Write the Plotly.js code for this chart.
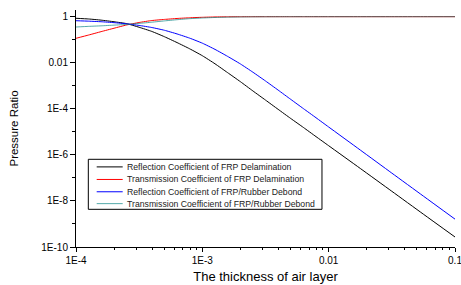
<!DOCTYPE html>
<html>
<head>
<meta charset="utf-8">
<script src="https://cdn.plot.ly/plotly-3.0.1.min.js"></script>
<style>html,body{margin:0;padding:0;background:#fff;}#chart{width:461px;height:285px;}</style>
</head>
<body>
<div id="chart"></div>
<script>
// Air-layer thickness (x)
const thickness = [1.0e-4, 1.26e-4, 1.58e-4, 2.0e-4, 2.51e-4, 3.16e-4, 3.98e-4, 5.01e-4, 6.31e-4, 7.94e-4,
                   1.0e-3, 1.26e-3, 1.58e-3, 2.0e-3, 2.51e-3, 3.16e-3, 3.98e-3, 5.01e-3, 6.31e-3, 7.94e-3,
                   0.01, 0.0178, 0.0316, 0.0562, 0.1];
// Reflection coefficient of FRP delamination
const reflFRP = [0.851, 0.794, 0.708, 0.603, 0.501, 0.347, 0.229, 0.135, 0.0750, 0.0403,
                 0.0202, 9.0e-3, 3.76e-3, 1.51e-3, 6.0e-4, 2.4e-4, 9.5e-5, 3.8e-5, 1.55e-5, 6.2e-6,
                 2.5e-6, 2.57e-7, 2.63e-8, 2.66e-9, 2.72e-10];
// Transmission coefficient of FRP delamination
const transFRP = [0.115, 0.16, 0.224, 0.315, 0.435, 0.56, 0.68, 0.76, 0.835, 0.896,
                  0.94, 0.972, 0.988, 0.995, 0.998, 1, 1, 1, 1, 1,
                  1, 1, 1, 1, 1];
// Reflection coefficient of FRP/Rubber debond
const reflRub = [0.668, 0.638, 0.603, 0.550, 0.490, 0.417, 0.339, 0.257, 0.178, 0.117,
                 0.0708, 0.0380, 0.0191, 8.9e-3, 3.9e-3, 1.62e-3, 6.5e-4, 2.57e-4, 1.02e-4, 4.1e-5,
                 1.62e-5, 1.62e-6, 1.62e-7, 1.62e-8, 1.62e-9];
// Transmission coefficient of FRP/Rubber debond
const transRub = [0.356, 0.38, 0.40, 0.43, 0.46, 0.51, 0.576, 0.656, 0.74, 0.82,
                  0.877, 0.923, 0.955, 0.975, 0.987, 0.993, 0.997, 0.999, 1, 1,
                  1, 1, 1, 1, 1];

const seriesNames = [
  'Reflection Coefficient of FRP Delamination',
  'Transmission Coefficient of FRP Delamination',
  'Reflection Coefficient of FRP/Rubber Debond',
  'Transmission Coefficient of FRP/Rubber Debond'
];
const seriesValues = [reflFRP, transFRP, reflRub, transRub];
const seriesColors = ['#000000', '#ff0000', '#0000ff', 'rgba(0,128,128,0.67)'];

const yTickVals = [1, 0.01, 1e-4, 1e-6, 1e-8, 1e-10];
const yTickText = ['1', '0.01', '1E-4', '1E-6', '1E-8', '1E-10'];
const yMinorVals = [0.1, 1e-3, 1e-5, 1e-7, 1e-9];
const xTickVals = [1e-4, 1e-3, 0.01, 0.1];
const xTickText = ['1E-4', '1E-3', '0.01', '0.1'];
const xMinorVals = [];
[1e-4, 1e-3, 1e-2].forEach(d => { for (let k = 2; k <= 9; k++) xMinorVals.push(k * d); });

const FONT = 'Liberation Sans, Arial, sans-serif';

const traces = seriesValues.map((v, i) => ({
  x: thickness, y: v, type: 'scatter', mode: 'lines', name: seriesNames[i],
  line: {color: seriesColors[i], width: 1, shape: 'spline', smoothing: 0.5},
  showlegend: false, hoverinfo: 'skip'
}));

// manual legend (compact, like the original)
const shapes = [{type: 'rect', xref: 'paper', yref: 'paper', x0: 0.0325, x1: 0.649, y0: 0.159, y1: 0.370,
                 line: {color: '#000', width: 1}, fillcolor: 'rgba(0,0,0,0)'}];
const annotations = [];
const rowY = [0.338, 0.285, 0.233, 0.183];
seriesNames.forEach((n, i) => {
  shapes.push({type: 'line', xref: 'paper', yref: 'paper', x0: 0.0546, x1: 0.1232, y0: rowY[i], y1: rowY[i],
               line: {color: seriesColors[i], width: 1}});
  annotations.push({xref: 'paper', yref: 'paper', x: 0.129, y: rowY[i], xanchor: 'left', yanchor: 'middle',
                    text: n, showarrow: false, font: {family: FONT, size: 8.7, color: '#222'}});
});

const layout = {
  width: 461, height: 285,
  margin: {l: 76, r: 6, t: 10, b: 38, pad: 0},
  paper_bgcolor: '#fff', plot_bgcolor: '#fff',
  font: {family: FONT, color: '#000'},
  xaxis: {
    type: 'log', range: [-4, -1], showgrid: false, zeroline: false,
    showline: true, linecolor: '#000', linewidth: 1,
    ticks: 'outside', ticklen: 4, tickcolor: '#000', tickwidth: 1,
    tickmode: 'array', tickvals: xTickVals, ticktext: xTickText, ticklabeloverflow: 'allow',
    tickfont: {family: FONT, size: 10, color: '#000'},
    minor: {tickmode: 'array', tickvals: xMinorVals, ticks: 'outside', ticklen: 2, tickcolor: '#000', showgrid: false},
    title: {text: 'The thickness of air layer', font: {family: FONT, size: 13, color: '#000'}, standoff: 6}
  },
  yaxis: {
    type: 'log', range: [-10, 0.29], showgrid: false, zeroline: false,
    showline: true, linecolor: '#000', linewidth: 1,
    ticks: 'outside', ticklen: 5, tickcolor: '#000', tickwidth: 1,
    tickmode: 'array', tickvals: yTickVals, ticktext: yTickText, ticklabeloverflow: 'allow',
    tickfont: {family: FONT, size: 10, color: '#000'},
    minor: {tickmode: 'array', tickvals: yMinorVals, ticks: 'outside', ticklen: 3, tickcolor: '#000', showgrid: false},
    title: {text: 'Pressure Ratio', font: {family: FONT, size: 11.5, color: '#000'}, standoff: 20}
  },
  shapes: shapes,
  annotations: annotations,
  showlegend: false
};

Plotly.newPlot('chart', traces, layout, {staticPlot: true, displayModeBar: false});
</script>
</body>
</html>
